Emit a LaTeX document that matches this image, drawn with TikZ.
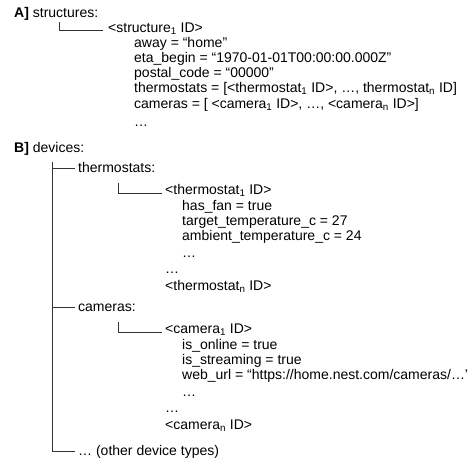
\documentclass[tikz,border=0pt]{standalone}
\usepackage{fontspec}
\setmainfont{Liberation Sans}
\begin{document}
\begin{tikzpicture}[x=1pt,y=-1pt,
  txt/.style={anchor=base west, inner sep=0pt, font=\fontsize{14}{16}\selectfont},
  ln/.style={line width=0.8pt, draw=black!80}]
\useasboundingbox (0,0) rectangle (468,463);
\clip (0,0) rectangle (468,463);
% A block
\node[txt] (A) at (14,17) {\textbf{A]} structures:};
\node[txt] (st) at (108,32) {<structure\textsubscript{1} ID>};
\node[txt] (a1) at (134,47) {away = “home”};
\node[txt] (a2) at (134,62) {eta\_begin = “1970-01-01T00:00:00.000Z”};
\node[txt] (a3) at (134,77) {postal\_code = “00000”};
\node[txt] (a4) at (134,92) {thermostats = [<thermostat\textsubscript{1} ID>, …, thermostat\textsubscript{n} ID]};
\node[txt] (a5) at (134,108) {cameras = [ <camera\textsubscript{1} ID>, …, <camera\textsubscript{n} ID>]};
\node[txt] (a6) at (134,126) {…};
\coordinate (stc) at (59,22);
\draw[ln] (stc) |- ([xshift=-5pt,yshift=2pt]st.base west);
% B block
\node[txt] (B) at (14,152) {\textbf{B]} devices:};
\node[txt] (th) at (78,172) {thermostats:};
\node[txt] (t0) at (165,194) {<thermostat\textsubscript{1} ID>};
\node[txt] (t1) at (182,210) {has\_fan = true};
\node[txt] (t2) at (182,225) {target\_temperature\_c = 27};
\node[txt] (t3) at (182,240) {ambient\_temperature\_c = 24};
\node[txt] (t4) at (182,257) {…};
\node[txt] (t5) at (165,273) {…};
\node[txt] (t6) at (165,290) {<thermostat\textsubscript{n} ID>};
\node[txt] (ca) at (78,311) {cameras:};
\node[txt] (c0) at (165,333) {<camera\textsubscript{1} ID>};
\node[txt] (c1) at (182,349) {is\_online = true};
\node[txt] (c2) at (182,364) {is\_streaming = true};
\node[txt] (c3) at (182,379) {web\_url = “https://home.nest.com/cameras/…”};
\node[txt] (c4) at (182,396) {…};
\node[txt] (c5) at (165,412) {…};
\node[txt] (c6) at (165,429) {<camera\textsubscript{n} ID>};
\node[txt] (ot) at (78,455) {… (other device types)};
\coordinate (btop) at (52,162);
\coordinate (tc) at (118,183);
\coordinate (cc) at (118,322);
\draw[ln] (btop) |- ([xshift=-3pt,yshift=4pt]ot.base west);
\draw[ln] ([yshift=4pt]th.base west -| btop) -- ([xshift=-3pt,yshift=4pt]th.base west);
\draw[ln] ([yshift=4pt]ca.base west -| btop) -- ([xshift=-3pt,yshift=4pt]ca.base west);
\draw[ln] (tc) |- ([xshift=-3pt,yshift=1pt]t0.base west);
\draw[ln] (cc) |- ([xshift=-3pt,yshift=1pt]c0.base west);
\end{tikzpicture}
\end{document}
